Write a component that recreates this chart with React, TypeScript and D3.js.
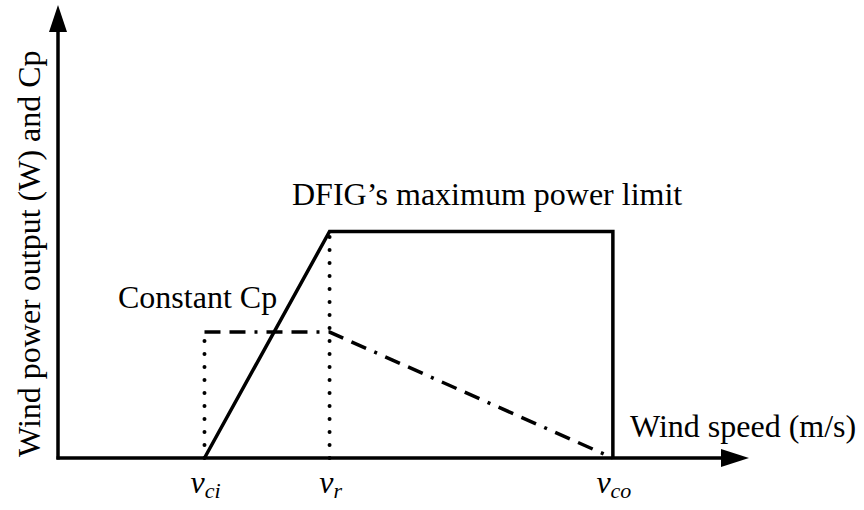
import { useEffect, useRef } from 'react'
import * as d3 from 'd3'

// wind speeds (arbitrary units, axis runs 0..100)
const speedNames = ['ci', 'r', 'co']
const speedValues = [21.2, 39.3, 80.3]

// DFIG maximum power limit curve
const limitSpeeds = [21.2, 39.3, 80.3, 80.3]
const limitPowers = [0, 50, 50, 0]

// constant Cp curve
const cpSpeeds = [21.2, 39.3, 80.3]
const cpPowers = [27.8, 27.8, 0]

// dotted guides at vci and vr
const guideSpeeds = [21.2, 39.3]
const guideTops = [27.8, 50]

const App = () => {
  const svgRef = useRef<SVGSVGElement | null>(null)

  useEffect(() => {
    if (!svgRef.current) return
    const svg = d3.select(svgRef.current)
    svg.selectAll('*').remove()

    const width = 864
    const height = 510
    const font = '"Liberation Serif", "Times New Roman", serif'

    svg.attr('width', width).attr('height', height)

    const x = d3.scaleLinear().domain([0, 100]).range([58, 749])
    const y = d3.scaleLinear().domain([0, 100]).range([458, 5])

    const line = d3
      .line<[number, number]>()
      .x((d) => x(d[0]))
      .y((d) => y(d[1]))

    // dotted guides
    guideSpeeds.forEach((s, i) => {
      svg
        .append('line')
        .attr('x1', x(s))
        .attr('x2', x(s))
        .attr('y1', y(0))
        .attr('y2', y(guideTops[i]) + 4)
        .attr('stroke', '#000')
        .attr('stroke-width', 4)
        .attr('stroke-linecap', 'round')
        .attr('stroke-dasharray', '0 13')
    })

    // constant Cp (dash-dot)
    svg
      .append('path')
      .datum(cpSpeeds.map((s, i) => [s, cpPowers[i]] as [number, number]))
      .attr('fill', 'none')
      .attr('stroke', '#000')
      .attr('stroke-width', 3.5)
      .attr('stroke-dasharray', '16 9 16 9 3 9')
      .attr('d', line)

    // max power limit (solid)
    svg
      .append('path')
      .datum(limitSpeeds.map((s, i) => [s, limitPowers[i]] as [number, number]))
      .attr('fill', 'none')
      .attr('stroke', '#000')
      .attr('stroke-width', 3.5)
      .attr('stroke-linejoin', 'miter')
      .attr('d', line)

    // axes with arrows
    svg
      .append('line')
      .attr('x1', x(0) - 1.5)
      .attr('x2', x(100) - 26)
      .attr('y1', y(0))
      .attr('y2', y(0))
      .attr('stroke', '#000')
      .attr('stroke-width', 3.5)
    svg
      .append('path')
      .attr('d', `M${x(100)},${y(0)} L${x(100) - 28},${y(0) - 9} L${x(100) - 28},${y(0) + 9} Z`)
      .attr('fill', '#000')

    svg
      .append('line')
      .attr('x1', x(0))
      .attr('x2', x(0))
      .attr('y1', y(0) + 1.5)
      .attr('y2', y(100) + 25)
      .attr('stroke', '#000')
      .attr('stroke-width', 3.5)
    svg
      .append('path')
      .attr('d', `M${x(0)},${y(100)} L${x(0) - 9},${y(100) + 27} L${x(0) + 9},${y(100) + 27} Z`)
      .attr('fill', '#000')

    // axis titles
    svg
      .append('text')
      .attr('transform', `translate(40, 457) rotate(-90)`)
      .attr('font-family', font)
      .attr('font-size', 32)
      .text('Wind power output (W) and Cp')

    svg
      .append('text')
      .attr('x', 630)
      .attr('y', 437)
      .attr('font-family', font)
      .attr('font-size', 32)
      .text('Wind speed (m/s)')

    // curve labels
    svg
      .append('text')
      .attr('x', 292)
      .attr('y', 205)
      .attr('font-family', font)
      .attr('font-size', 32)
      .text('DFIG\u2019s maximum power limit')

    svg
      .append('text')
      .attr('x', 118)
      .attr('y', 308)
      .attr('font-family', font)
      .attr('font-size', 32)
      .text('Constant Cp')

    // speed tick labels
    speedValues.forEach((s, i) => {
      const t = svg
        .append('text')
        .attr('x', x(s) + 1)
        .attr('y', 493)
        .attr('text-anchor', 'middle')
        .attr('font-family', font)
        .attr('font-style', 'italic')
        .attr('font-size', 32)
      t.append('tspan').text('v')
      t.append('tspan').attr('font-size', 22).attr('dy', 5).text(speedNames[i])
    })
  }, [])

  return (
    <svg
      ref={svgRef}
      style={{ position: 'absolute', left: 0, top: 0, background: '#fff' }}
    ></svg>
  )
}

export default App
